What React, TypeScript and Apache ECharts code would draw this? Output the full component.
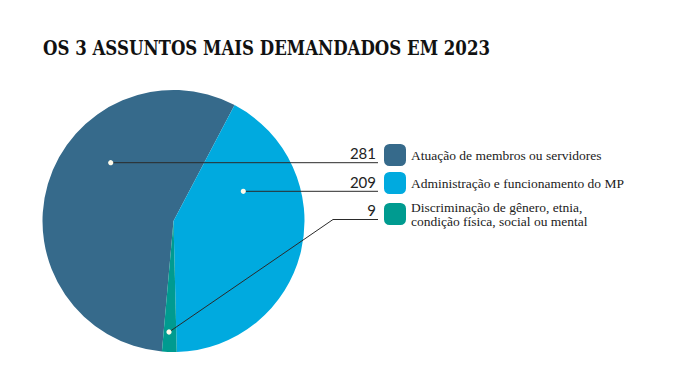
import React, { useEffect, useRef } from "react";
import * as echarts from "echarts";

const categories = [
  "Atuação de membros ou servidores",
  "Administração e funcionamento do MP",
  "Discriminação de gênero, etnia,\ncondição física, social ou mental",
];
const values = [281, 209, 9];
const colors = ["#366a8b", "#00aadf", "#009b90"];
const titleText = "OS 3 ASSUNTOS MAIS DEMANDADOS EM 2023";

// layout (annotation anchors, not data)
const CENTER: [number, number] = [173.5, 221];
const RADIUS = 131;
const dotPoints: [number, number][] = [
  [110.7, 162.7],
  [243.3, 191.3],
  [169, 332],
];
const elbowPoints: ([number, number] | null)[] = [null, null, [333, 219.5]];
const rowLineY = [162.7, 191.3, 219.5];
const lineEndX = 378;

export default function App() {
  const ref = useRef<HTMLDivElement>(null);
  useEffect(() => {
    if (!ref.current) return;
    const chart = echarts.init(ref.current, null, { renderer: "svg" });
    const total = values.reduce((a, b) => a + b, 0);
    const boundaryDeg = 27.8; // clockwise from top, dark/light boundary
    const darkSpan = (values[0] / total) * 360;
    const startAngle = 90 - (boundaryDeg - darkSpan);

    const graphics: any[] = [
      {
        type: "text",
        x: 43,
        y: 38,
        scaleX: 0.83,
        style: {
          text: titleText,
          fontFamily: "DejaVu Serif",
          fontWeight: "bold",
          fontSize: 20,
          fill: "#111",
          verticalAlign: "top",
        },
      },
    ];
    values.forEach((v, i) => {
      const d = dotPoints[i];
      const pts: number[][] = [d];
      const e = elbowPoints[i];
      if (e) pts.push(e);
      pts.push([lineEndX, rowLineY[i]]);
      graphics.push({
        type: "polyline",
        shape: { points: pts },
        style: { stroke: "#2a2a2a", lineWidth: 1, fill: null },
        z: 10,
      });
      graphics.push({
        type: "circle",
        shape: { cx: d[0], cy: d[1], r: 2.6 },
        style: { fill: "#fffbea" },
        z: 11,
      });
      graphics.push({
        type: "text",
        x: 376,
        y: rowLineY[i] - 2,
        style: {
          text: String(v),
          align: "right",
          verticalAlign: "bottom",
          fontFamily: "Lato",
          fontSize: 15,
          fill: "#222",
        },
        z: 11,
      });
    });

    chart.setOption({
      animation: false,
      legend: {
        orient: "vertical",
        left: 384,
        top: 144,
        padding: 0,
        itemWidth: 22,
        itemHeight: 22,
        itemGap: 6,
        icon: "roundRect",
        selectedMode: false,
        data: categories,
        textStyle: {
          fontFamily: "Liberation Serif",
          fontSize: 13.5,
          color: "#222",
          lineHeight: 14,
        },
      },
      color: colors,
      series: [
        {
          type: "pie",
          center: CENTER,
          radius: RADIUS,
          startAngle,
          clockwise: true,
          silent: true,
          label: { show: false },
          labelLine: { show: false },
          emphasis: { disabled: true },
          data: categories.map((c, i) => ({ name: c, value: values[i] })),
        },
      ],
      graphic: graphics,
    });
    return () => chart.dispose();
  }, []);
  return (
    <div
      ref={ref}
      style={{ position: "fixed", left: 0, top: 0, width: 678, height: 386, background: "#fff" }}
    />
  );
}
